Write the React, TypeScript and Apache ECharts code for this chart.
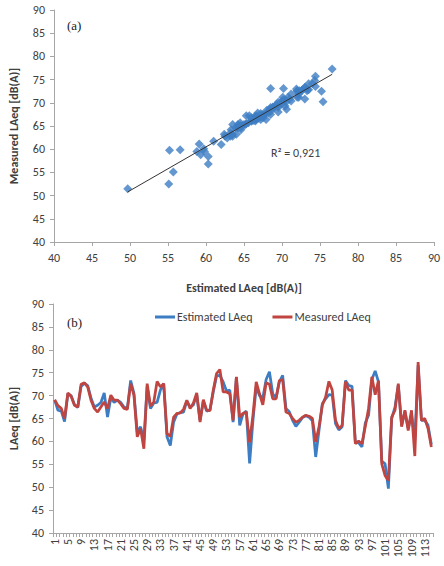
import React, { useEffect, useRef } from "react";
import * as echarts from "echarts";

// Estimated LAeq (blue) and Measured LAeq (red), one value per measurement 1..115
const estimated: number[] = [
  69.0, 66.8, 66.6, 64.3, 70.4, 70.0, 68.0, 67.4, 72.0, 72.7,
  72.2, 69.5, 67.5, 67.9, 68.5, 70.6, 65.3, 69.5, 68.5, 69.0,
  68.5, 67.5, 67.2, 73.3, 70.5, 62.0, 63.2, 60.3, 72.0, 67.2,
  68.4, 68.5, 71.2, 72.6, 61.0, 59.1, 64.2, 66.0, 66.3, 66.4,
  68.8, 67.5, 68.0, 70.2, 64.6, 68.8, 66.6, 66.9, 70.8, 74.3,
  74.4, 73.0, 71.0, 71.2, 64.2, 74.0, 63.5, 66.0, 66.6, 55.2,
  64.5, 71.9, 70.0, 69.5, 73.5, 75.2, 70.4, 69.5, 73.0, 74.4,
  67.2, 66.5, 64.6, 63.3, 64.2, 65.2, 65.6, 65.3, 64.5, 56.6,
  62.4, 68.2, 69.3, 70.2, 70.1, 63.9, 62.5, 63.2, 73.3, 72.2,
  72.0, 59.8, 59.7, 58.8, 64.0, 65.7, 73.5, 75.4, 73.0, 55.7,
  55.1, 49.7, 65.0, 67.5, 72.3, 63.5, 66.5, 62.8, 66.0, 60.3,
  76.6, 64.6, 64.6, 63.5, 59.3,
];
const measured: number[] = [
  69.1, 67.8, 67.2, 65.0, 70.6, 69.8, 67.9, 67.5, 72.5, 72.8,
  71.9, 69.0, 67.2, 66.4, 67.5, 68.6, 67.2, 70.1, 69.0, 69.0,
  68.2, 67.2, 67.0, 72.6, 70.1, 61.0, 62.8, 58.4, 72.6, 67.7,
  68.6, 73.1, 71.9, 72.6, 61.7, 61.1, 65.3, 66.1, 66.2, 67.0,
  69.0, 67.2, 68.4, 70.6, 64.2, 69.1, 66.8, 66.7, 71.2, 74.8,
  75.7, 70.8, 70.8, 70.4, 64.6, 74.1, 65.3, 66.1, 66.4, 59.8,
  65.7, 73.0, 70.4, 68.0, 72.8, 72.5, 69.3, 69.3, 73.3, 73.5,
  66.4, 66.1, 65.0, 64.2, 64.6, 65.3, 65.7, 65.5, 65.0, 59.9,
  63.2, 67.9, 69.7, 73.1, 71.2, 64.6, 62.8, 63.5, 73.0, 71.2,
  71.2, 59.5, 60.1, 59.5, 63.2, 67.2, 74.1, 70.2, 73.3, 55.1,
  52.5, 51.5, 65.3, 66.8, 72.6, 63.2, 66.8, 62.4, 66.8, 56.8,
  77.3, 64.6, 65.0, 62.8, 58.8,
];
const categories: string[] = estimated.map((_, i) => String(i + 1));
const seriesNames = ["Estimated LAeq", "Measured LAeq"];
const axisTitles = {
  ax: "Estimated LAeq [dB(A)]",
  ay: "Measured LAeq [dB(A)]",
  by: "LAeq [dB(A)]",
};
const r2Label = "R\u00B2 = 0,921";

const FONT = "Carlito, Lato, 'Liberation Sans', sans-serif";
const AXIS_COLOR = "#A6A6A6";
const LABEL_COLOR = "#404040";
const BLUE = "#3D7DC3";
const RED = "#C0443F";

export default function App() {
  const ref = useRef<HTMLDivElement>(null);
  useEffect(() => {
    if (!ref.current) return;
    const chart = echarts.init(ref.current, undefined, { renderer: "svg" });

    const pairs = estimated.map((e, i) => [e, measured[i]]);
    // least-squares trendline of measured on estimated
    const n = pairs.length;
    const mx = estimated.reduce((a, b) => a + b, 0) / n;
    const my = measured.reduce((a, b) => a + b, 0) / n;
    let sxy = 0;
    let sxx = 0;
    for (let i = 0; i < n; i++) {
      sxy += (estimated[i] - mx) * (measured[i] - my);
      sxx += (estimated[i] - mx) ** 2;
    }
    const slope = sxy / sxx;
    const icpt = my - slope * mx;
    const xmin = Math.min(...estimated);
    const xmax = Math.max(...estimated);
    const trend = [
      [xmin, icpt + slope * xmin],
      [xmax, icpt + slope * xmax],
    ];

    const valueAxisCommon = {
      type: "value" as const,
      min: 40,
      max: 90,
      interval: 5,
      splitLine: { show: false },
      axisLine: { show: true, lineStyle: { color: AXIS_COLOR, width: 1 } },
      axisTick: { show: true, length: 4, lineStyle: { color: AXIS_COLOR } },
      axisLabel: { color: LABEL_COLOR, fontFamily: FONT, fontSize: 12 },
    };
    const titleStyle = { color: LABEL_COLOR, fontFamily: FONT, fontSize: 12, fontWeight: "bold" };

    chart.setOption({
      animation: false,
      textStyle: { fontFamily: FONT },
      grid: [
        { left: 44, top: 10, width: 390, height: 232 },
        { left: 43, top: 304, width: 390, height: 229 },
      ],
      legend: {
        data: seriesNames,
        top: 306,
        left: 150,
        icon: "rect",
        itemWidth: 20,
        itemHeight: 3,
        itemGap: 20,
        textStyle: { color: LABEL_COLOR, fontFamily: FONT, fontSize: 12, padding: [0, 0, 0, -3] },
      },
      xAxis: [
        {
          ...valueAxisCommon,
          gridIndex: 0,
          axisLabel: { ...valueAxisCommon.axisLabel, margin: 10 },
          name: axisTitles.ax,
          nameLocation: "middle",
          nameGap: 40,
          nameTextStyle: titleStyle,
        },
        {
          type: "category",
          gridIndex: 1,
          data: categories,
          boundaryGap: true,
          axisLine: { show: true, lineStyle: { color: AXIS_COLOR, width: 1 } },
          axisTick: { show: true, interval: 0, length: 4, lineStyle: { color: AXIS_COLOR } },
          axisLabel: {
            interval: 3,
            rotate: 90,
            margin: 6,
            color: LABEL_COLOR,
            fontFamily: FONT,
            fontSize: 12,
          },
        },
      ],
      yAxis: [
        {
          ...valueAxisCommon,
          gridIndex: 0,
          axisLabel: { ...valueAxisCommon.axisLabel, margin: 9 },
          name: axisTitles.ay,
          nameLocation: "middle",
          nameGap: 34,
          nameTextStyle: titleStyle,
        },
        {
          ...valueAxisCommon,
          gridIndex: 1,
          axisLabel: { ...valueAxisCommon.axisLabel, margin: 9 },
          name: axisTitles.by,
          nameLocation: "middle",
          nameGap: 33,
          nameTextStyle: titleStyle,
        },
      ],
      series: [
        {
          type: "scatter",
          xAxisIndex: 0,
          yAxisIndex: 0,
          data: pairs,
          symbol: "diamond",
          symbolSize: 9,
          itemStyle: { color: BLUE },
          silent: true,
        },
        {
          type: "line",
          xAxisIndex: 0,
          yAxisIndex: 0,
          data: trend,
          showSymbol: false,
          lineStyle: { color: "#333333", width: 1 },
          silent: true,
          z: 3,
        },
        {
          name: seriesNames[0],
          type: "line",
          xAxisIndex: 1,
          yAxisIndex: 1,
          data: estimated,
          showSymbol: false,
          itemStyle: { color: BLUE },
          lineStyle: { color: BLUE, width: 2.75 },
        },
        {
          name: seriesNames[1],
          type: "line",
          xAxisIndex: 1,
          yAxisIndex: 1,
          data: measured,
          showSymbol: false,
          itemStyle: { color: RED },
          lineStyle: { color: RED, width: 2.75 },
        },
      ],
      graphic: [
        {
          type: "text",
          left: 67,
          top: 19,
          style: { text: "(a)", fill: "#222", font: "normal 400 13px 'Liberation Serif', serif" },
        },
        {
          type: "text",
          left: 67,
          top: 316,
          style: { text: "(b)", fill: "#222", font: "normal 400 13px 'Liberation Serif', serif" },
        },
        {
          type: "text",
          left: 271,
          top: 147,
          style: { text: r2Label, fill: LABEL_COLOR, font: `12px ${FONT}` },
        },
      ],
    });
    return () => chart.dispose();
  }, []);

  return (
    <div
      ref={ref}
      style={{ position: "fixed", left: 0, top: 0, width: 444, height: 566, background: "#fff" }}
    />
  );
}
